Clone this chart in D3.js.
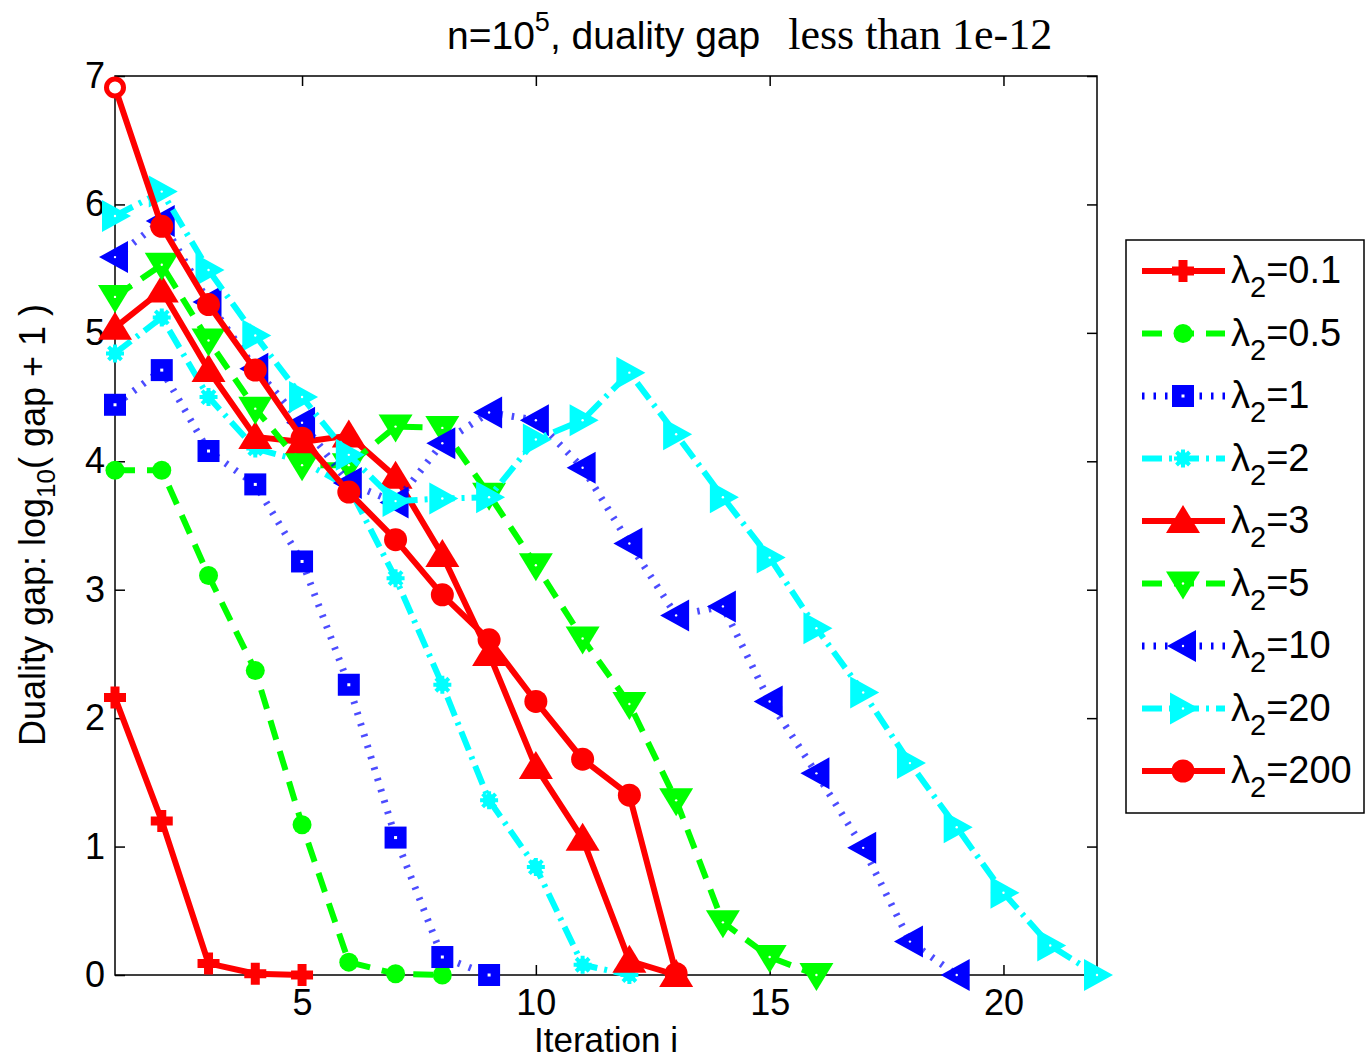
<!DOCTYPE html>
<html>
<head>
<meta charset="utf-8">
<script src="https://cdn.jsdelivr.net/npm/d3@7"></script>
<style>
  body { margin: 0; background: #fff; }
  svg text { fill: #000; }
</style>
</head>
<body>
<svg id="chart" width="1365" height="1059"></svg>
<script>
// Duality gap, log10(gap + 1), per iteration, one series per lambda_2
const lambdaLabels = ["0.1", "0.5", "1", "2", "3", "5", "10", "20", "200"];
const gapL01  = [2.16, 1.20, 0.09, 0.01, 0.00];
const gapL05  = [3.93, 3.93, 3.11, 2.37, 1.17, 0.10, 0.01, 0.00];
const gapL1   = [4.44, 4.71, 4.08, 3.82, 3.22, 2.26, 1.07, 0.14, 0.00];
const gapL2   = [4.84, 5.12, 4.50, 4.10, 4.00, 3.80, 3.09, 2.26, 1.36, 0.84, 0.08, 0.00];
const gapL3   = [5.04, 5.33, 4.71, 4.19, 4.15, 4.20, 3.88, 3.27, 2.50, 1.62, 1.06, 0.11, 0.00];
const gapL5   = [5.28, 5.53, 4.94, 4.41, 3.97, 3.97, 4.27, 4.26, 3.74, 3.19, 2.62, 2.11, 1.36, 0.41, 0.14, 0.00];
const gapL10  = [5.59, 5.87, 5.24, 4.72, 4.30, 3.83, 3.68, 4.14, 4.38, 4.32, 3.95, 3.36, 2.80, 2.87, 2.13, 1.57, 0.99, 0.26, 0.00];
const gapL20  = [5.91, 6.10, 5.49, 4.98, 4.50, 4.05, 3.69, 3.71, 3.72, 4.17, 4.32, 4.69, 4.21, 3.72, 3.25, 2.70, 2.20, 1.65, 1.15, 0.64, 0.23, 0.00];
const gapL200 = [6.91, 5.83, 5.22, 4.71, 4.18, 3.76, 3.39, 2.96, 2.61, 2.13, 1.68, 1.40, 0.01];

const xTicks = [5, 10, 15, 20];
const yTicks = [0, 1, 2, 3, 4, 5, 6, 7];

const RED = "#ff0000", GREEN = "#00ff00", BLUE = "#0000ff", CYAN = "#00ffff";
const SOLID = null, DASHED = "20,12", DOTTED = "2.5,9", DASHDOT = "20,7,3,7";

const series = [
  { lam: lambdaLabels[0], values: gapL01,  color: RED,   dash: SOLID,   width: 6, marker: "plus" },
  { lam: lambdaLabels[1], values: gapL05,  color: GREEN, dash: DASHED,  width: 6, marker: "dot" },
  { lam: lambdaLabels[2], values: gapL1,   color: BLUE,  dash: DOTTED,  width: 7, marker: "square", opacity: 0.7 },
  { lam: lambdaLabels[3], values: gapL2,   color: CYAN,  dash: DASHDOT, width: 6, marker: "star" },
  { lam: lambdaLabels[4], values: gapL3,   color: RED,   dash: SOLID,   width: 6, marker: "triUp" },
  { lam: lambdaLabels[5], values: gapL5,   color: GREEN, dash: DASHED,  width: 6, marker: "triDown" },
  { lam: lambdaLabels[6], values: gapL10,  color: BLUE,  dash: DOTTED,  width: 7, marker: "triLeft", opacity: 0.7 },
  { lam: lambdaLabels[7], values: gapL20,  color: CYAN,  dash: DASHDOT, width: 6, marker: "triRight" },
  { lam: lambdaLabels[8], values: gapL200, color: RED,   dash: SOLID,   width: 6, marker: "circle" }
];

const svg = d3.select("#chart");
const plot = { left: 115, right: 1097, top: 76, bottom: 975 };

const x = d3.scaleLinear().domain([1, 22]).range([plot.left, plot.right]);
const y = d3.scaleLinear().domain([0, 7]).range([plot.bottom, plot.top]);

const SANS = "'Liberation Sans', Arial, Helvetica, sans-serif";
const SERIF = "'Liberation Serif', 'Times New Roman', serif";

// ---- axes box with inward ticks ----
function styleAxis(g) {
  g.select(".domain").remove();
  g.selectAll(".tick line").attr("stroke", "#000").attr("stroke-width", 1.5);
  g.selectAll(".tick text").attr("font-family", SANS).attr("font-size", 36).attr("fill", "#000");
}

svg.append("g")
  .attr("transform", `translate(0,${plot.bottom})`)
  .call(d3.axisBottom(x).tickValues(xTicks).tickFormat(d3.format("d"))
    .tickSize(-10).tickSizeOuter(0).tickPadding(14))
  .call(styleAxis);
svg.append("g")
  .attr("transform", `translate(0,${plot.top})`)
  .call(d3.axisTop(x).tickValues(xTicks).tickSize(-10).tickSizeOuter(0).tickFormat(""))
  .call(styleAxis);
svg.append("g")
  .attr("transform", `translate(${plot.left},0)`)
  .call(d3.axisLeft(y).tickValues(yTicks).tickFormat(d3.format("d"))
    .tickSize(-10).tickSizeOuter(0).tickPadding(10))
  .call(styleAxis);
svg.append("g")
  .attr("transform", `translate(${plot.right},0)`)
  .call(d3.axisRight(y).tickValues(yTicks).tickSize(-10).tickSizeOuter(0).tickFormat(""))
  .call(styleAxis);

svg.append("rect")
  .attr("x", plot.left).attr("y", plot.top)
  .attr("width", plot.right - plot.left).attr("height", plot.bottom - plot.top)
  .attr("fill", "none").attr("stroke", "#000").attr("stroke-width", 1.5);

// ---- markers ----
function drawMarker(g, type, color, cx, cy, hollow) {
  const m = g.append("g").attr("transform", `translate(${cx},${cy})`);
  const tri = (pts) => "M" + pts.map(p => p.join(",")).join("L") + "Z";
  switch (type) {
    case "plus":
      m.append("path")
        .attr("d", "M-11,-4.5H-4.5V-11H4.5V-4.5H11V4.5H4.5V11H-4.5V4.5H-11Z")
        .attr("fill", color);
      break;
    case "dot":
      m.append("circle").attr("r", 9.5).attr("fill", color);
      break;
    case "star":
      m.append("circle").attr("r", 6.5).attr("fill", color);
      m.append("path")
        .attr("d", "M-9,0H9M0,-9V9M-6.5,-6.5L6.5,6.5M-6.5,6.5L6.5,-6.5")
        .attr("stroke", color).attr("stroke-width", 4);
      break;
    case "square":
      m.append("rect").attr("x", -11).attr("y", -11).attr("width", 22).attr("height", 22).attr("fill", color);
      m.append("rect").attr("x", -1.5).attr("y", -1.5).attr("width", 3).attr("height", 3).attr("fill", "#fff");
      break;
    case "triUp":
      m.append("path").attr("d", tri([[0, -16], [17, 12], [-17, 12]])).attr("fill", color);
      break;
    case "triDown":
      m.append("path").attr("d", tri([[0, 16], [17, -12], [-17, -12]])).attr("fill", color);
      m.append("circle").attr("r", 1.2).attr("fill", "#fff");
      break;
    case "triLeft":
      m.append("path").attr("d", tri([[-16, 0], [13, -16], [13, 16]])).attr("fill", color);
      m.append("circle").attr("r", 1.2).attr("fill", "#fff");
      break;
    case "triRight":
      m.append("path").attr("d", tri([[16, 0], [-13, -16], [-13, 16]])).attr("fill", color);
      m.append("circle").attr("r", 1.2).attr("fill", "#fff");
      break;
    case "circle":
      if (hollow) {
        m.append("circle").attr("r", 8.5).attr("fill", "#fff").attr("stroke", color).attr("stroke-width", 5);
      } else {
        m.append("circle").attr("r", 11.5).attr("fill", color);
      }
      break;
  }
}

// ---- series ----
const line = d3.line().x(d => x(d.i)).y(d => y(d.v));

series.forEach(s => {
  const pts = s.values.map((v, k) => ({ i: k + 1, v }));
  const g = svg.append("g");
  g.append("path")
    .datum(pts)
    .attr("d", line)
    .attr("fill", "none")
    .attr("stroke", s.color)
    .attr("stroke-width", s.width)
    .attr("stroke-opacity", s.opacity || 1)
    .attr("stroke-linejoin", "round")
    .attr("stroke-dasharray", s.dash);
  pts.forEach((p, k) => {
    drawMarker(g, s.marker, s.color, x(p.i), y(p.v), s.marker === "circle" && k === 0);
  });
});

// ---- title ----
const title = svg.append("text")
  .attr("x", 447).attr("y", 49)
  .attr("font-family", SANS).attr("font-size", 39);
title.append("tspan").text("n=10");
title.append("tspan").attr("font-size", 27).attr("dy", -18).text("5");
title.append("tspan").attr("dy", 18).text(", duality gap");
title.append("tspan").attr("font-family", SERIF).attr("font-size", 44).attr("dx", 28).text("less than 1e-12");

// ---- axis labels ----
svg.append("text")
  .attr("x", 606).attr("y", 1052)
  .attr("text-anchor", "middle")
  .attr("font-family", SANS).attr("font-size", 35)
  .text("Iteration i");

const yl = svg.append("text")
  .attr("transform", "translate(45,525) rotate(-90)")
  .attr("text-anchor", "middle")
  .attr("font-family", SANS).attr("font-size", 36);
yl.append("tspan").text("Duality gap: log");
yl.append("tspan").attr("font-size", 26).attr("dy", 10).text("10");
yl.append("tspan").attr("dy", -10).text("( gap + 1 )");

// ---- legend ----
const legend = svg.append("g");
legend.append("rect")
  .attr("x", 1126).attr("y", 240).attr("width", 238).attr("height", 573)
  .attr("fill", "#fff").attr("stroke", "#000").attr("stroke-width", 1.5);

series.forEach((s, k) => {
  const cy = 271 + k * 62.5;
  const g = legend.append("g");
  g.append("line")
    .attr("x1", 1142).attr("x2", 1225).attr("y1", cy).attr("y2", cy)
    .attr("stroke", s.color).attr("stroke-width", s.width)
    .attr("stroke-dasharray", s.dash);
  drawMarker(g, s.marker, s.color, 1183, cy, false);
  const t = g.append("text")
    .attr("x", 1231).attr("y", cy + 12)
    .attr("font-family", SANS).attr("font-size", 38);
  t.append("tspan").text("λ");
  t.append("tspan").attr("font-size", 29).attr("dy", 14).text("2");
  t.append("tspan").attr("dy", -14).text("=" + s.lam);
});
</script>
</body>
</html>
